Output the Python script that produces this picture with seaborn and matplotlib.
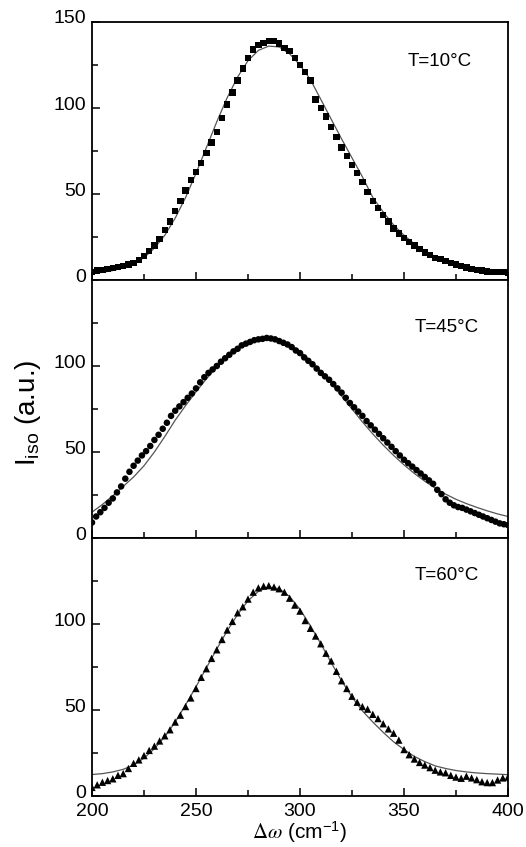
import matplotlib
matplotlib.use("Agg")
import matplotlib.pyplot as plt
from matplotlib.ticker import MultipleLocator
from matplotlib.transforms import ScaledTranslation
import seaborn as sns
import pandas as pd

# ---------------- data ----------------
shift_25 = [200, 202.5, 205, 207.5, 210, 212.5, 215, 217.5, 220, 222.5,
            225, 227.5, 230, 232.5, 235, 237.5, 240, 242.5, 245, 247.5,
            250, 252.5, 255, 257.5, 260, 262.5, 265, 267.5, 270, 272.5,
            275, 277.5, 280, 282.5, 285, 287.5, 290, 292.5, 295, 297.5,
            300, 302.5, 305, 307.5, 310, 312.5, 315, 317.5, 320, 322.5,
            325, 327.5, 330, 332.5, 335, 337.5, 340, 342.5, 345, 347.5,
            350, 352.5, 355, 357.5, 360, 362.5, 365, 367.5, 370, 372.5,
            375, 377.5, 380, 382.5, 385, 387.5, 390, 392.5, 395, 397.5,
            400]

shift_2 = [200, 202, 204, 206, 208, 210, 212, 214, 216, 218,
           220, 222, 224, 226, 228, 230, 232, 234, 236, 238,
           240, 242, 244, 246, 248, 250, 252, 254, 256, 258,
           260, 262, 264, 266, 268, 270, 272, 274, 276, 278,
           280, 282, 284, 286, 288, 290, 292, 294, 296, 298,
           300, 302, 304, 306, 308, 310, 312, 314, 316, 318,
           320, 322, 324, 326, 328, 330, 332, 334, 336, 338,
           340, 342, 344, 346, 348, 350, 352, 354, 356, 358,
           360, 362, 364, 366, 368, 370, 372, 374, 376, 378,
           380, 382, 384, 386, 388, 390, 392, 394, 396, 398,
           400]

fit_shift = [200, 205, 210, 215, 220, 225, 230, 235, 240, 245,
             250, 255, 260, 265, 270, 275, 280, 285, 290, 295,
             300, 305, 310, 315, 320, 325, 330, 335, 340, 345,
             350, 355, 360, 365, 370, 375, 380, 385, 390, 395,
             400]

iso_10 = [4.5, 5.5, 6, 6.5, 7, 7.5, 8, 9, 10, 11.5,
          14, 17, 20, 24, 29, 34, 40, 46, 52, 58,
          63, 68, 74, 80, 86, 94, 102, 109, 116, 123,
          129, 134, 136.5, 138, 139, 139, 137.5, 135, 133, 129,
          125, 121, 116, 105, 100, 95, 89, 83, 77, 72,
          67, 62, 57, 51, 46, 42, 38, 34, 30, 27,
          24.5, 22, 20, 18, 16, 14.5, 13, 12, 11, 10,
          9, 8, 7.3, 6.5, 6, 5.5, 5, 4.8, 4.6, 4.5,
          4.3]

iso_45 = [9, 12.5, 15, 17.5, 20.5, 23, 26.5, 30, 34.5, 38.5,
          42, 45, 48, 50.5, 53.5, 57, 60, 63.5, 67, 71,
          74, 76.5, 79, 81.5, 84, 87, 90.5, 93.5, 96, 98,
          100, 102.5, 104.5, 106.5, 108.5, 110, 112, 113, 114, 115,
          115.5, 115.8, 116.3, 116, 115.5, 114.5, 113.5, 112.5, 111, 109,
          107.5, 105, 103, 101, 98.5, 96, 94, 92, 89.5, 87,
          84.5, 81.5, 78.5, 76, 73.5, 71, 68, 65.5, 63, 60.5,
          58, 55.5, 53, 50.5, 48, 45.5, 43.5, 41.5, 39.5, 37.5,
          35.5, 33.5, 31.5, 28, 25.5, 22.5, 20.5, 19, 18, 17.5,
          16.5, 15.5, 14.5, 13.5, 12.5, 11.5, 10.5, 9.5, 8.5, 8,
          7.5]

iso_60 = [5, 6.5, 8, 9, 10, 12, 13, 16, 19, 21,
          23.5, 26.5, 29, 32, 35, 38.5, 43, 47, 52, 57,
          62.5, 69, 74, 80, 85, 91, 96.5, 101.5, 106.5, 110,
          114.5, 118.5, 121, 122, 122.3, 121.5, 120.5, 118.5, 115, 111,
          107.5, 102, 97.5, 93, 88.5, 83, 78.5, 72.5, 67, 62.5,
          58, 54.5, 52, 50.5, 47.5, 45, 42, 39, 36.5, 32.5,
          27, 24, 21.5, 19.5, 18, 16.5, 15, 14, 13.5, 12,
          11, 10.3, 11.5, 10.5, 9.5, 8.3, 7.8, 7.8, 9.3, 10.5,
          11]

fit_10 = [3.5, 4.5, 5.5, 7, 9.5, 13, 18.5, 26, 36, 48,
          62, 77, 92, 106, 118, 127.5, 133.5, 136, 135.5, 131.5,
          125, 116.5, 105, 93.5, 82, 71, 60, 48, 39.5, 32,
          26, 21, 17, 13.5, 10.5, 8.5, 7, 6, 5.2, 4.6,
          4.2]

fit_45 = [15, 19.5, 24.5, 30, 35.5, 42, 50, 59, 68.5, 77,
          85, 92.5, 99.5, 105.5, 110.5, 114, 116, 116.3, 115.3, 112.5,
          108.5, 103, 97, 90, 82.5, 75, 67.5, 60.5, 54, 48,
          42.5, 37.5, 33, 29, 25.5, 22.5, 20, 17.8, 15.8, 14,
          12.5]

fit_60 = [12.5, 13, 14, 15.5, 18, 22, 27.5, 34.5, 43, 53,
          63.5, 74.5, 85.5, 96, 105.5, 113.5, 119, 121.5, 120.5, 116,
          108.5, 99, 88.5, 77.5, 67, 57.5, 49.5, 43, 37, 31.5,
          27, 23, 20, 17.5, 16, 14.8, 14, 13.4, 13, 12.7,
          12.4]

labels = ["T=10°C", "T=45°C", "T=60°C"]
x_ticks = [200, 250, 300, 350, 400]

# ---------------- style ----------------
sns.set_theme(style="ticks")
plt.rcParams["font.family"] = ["Liberation Sans", "DejaVu Sans"]
plt.rcParams["mathtext.fontset"] = "stix"
plt.rcParams["axes.linewidth"] = 1.3
plt.rcParams["axes.edgecolor"] = "black"

W, H = 526, 847
fig = plt.figure(figsize=(W / 100, H / 100), dpi=100)

left_px, right_px = 92, 508
tops = [22, 280, 538]
panel_h = 258

series = [
    (shift_25, iso_10, fit_10, "s", 20),
    (shift_2, iso_45, fit_45, "o", 22),
    (shift_25, iso_60, fit_60, "^", 28),
]
label_pos = [(0.836, 0.845), (0.853, 0.814), (0.853, 0.853)]

lift = ScaledTranslation(0, 5 / 100, fig.dpi_scale_trans)

axes = []
for i, ((xs, ys, fs, mk, ms), top) in enumerate(zip(series, tops)):
    ax = fig.add_axes([left_px / W, 1 - (top + panel_h) / H,
                       (right_px - left_px) / W, panel_h / H])
    df = pd.DataFrame({"shift": xs, "iso": ys})
    dfit = pd.DataFrame({"shift": fit_shift, "fit": fs})
    sns.lineplot(data=dfit, x="shift", y="fit", ax=ax, color="#555555",
                 linewidth=0.9, zorder=2)
    sns.scatterplot(data=df, x="shift", y="iso", ax=ax, marker=mk, s=ms,
                    color="black", edgecolor="none", linewidth=0, zorder=3)
    ax.set_xlim(200, 400)
    ax.set_ylim(0, 150)
    ax.xaxis.set_major_locator(MultipleLocator(50))
    ax.xaxis.set_minor_locator(MultipleLocator(25))
    ax.yaxis.set_major_locator(MultipleLocator(50))
    ax.yaxis.set_minor_locator(MultipleLocator(25))
    ax.tick_params(which="both", direction="in", top=False, right=False,
                   width=1.1, colors="black", labelsize=14)
    ax.tick_params(which="major", length=6)
    ax.tick_params(axis="y", which="major", pad=4)
    ax.tick_params(axis="x", which="major", pad=5)
    ax.tick_params(which="minor", length=4)
    ax.set_xlabel("")
    ax.set_ylabel("")
    if i > 0:
        ax.set_yticks([0, 50, 100])
    else:
        ax.set_yticks([0, 50, 100, 150])
    if i < 2:
        ax.tick_params(axis="x", labelbottom=False)
    else:
        ax.set_xticks(x_ticks)
    for lab in ax.get_yticklabels():
        lab.set_transform(lab.get_transform() + lift)
    ax.text(label_pos[i][0], label_pos[i][1], labels[i], transform=ax.transAxes,
            ha="center", va="center", fontsize=13.5, color="black")
    for sp in ax.spines.values():
        sp.set_visible(True)
        sp.set_color("black")
    axes.append(ax)

fig.text(300 / W, 1 - 832 / H, r"$\Delta\omega$ (cm$^{\mathregular{-1}}$)",
         ha="center", va="center", fontsize=15, color="black")
fig.text(28 / W, 1 - 413 / H, r"$\mathregular{I_{iso}}$ (a.u.)", rotation=90,
         ha="center", va="center", fontsize=20, color="black")

fig.savefig("out.png", dpi=100, facecolor="white")
